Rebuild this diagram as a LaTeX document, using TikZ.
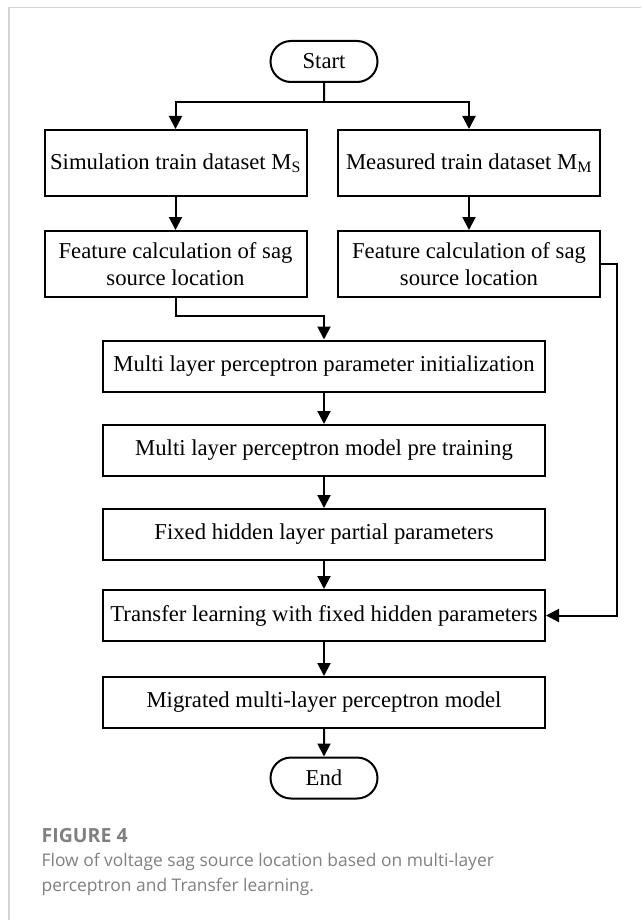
\documentclass[tikz,border=0pt]{standalone}
\usepackage{fontspec}
\setmainfont{Liberation Serif}
\newfontfamily\capfont{Open Sans}
\usetikzlibrary{arrows.meta, shapes.misc}
\definecolor{capgray}{RGB}{128,128,128}
\definecolor{framegray}{RGB}{212,212,212}

\begin{document}
\begin{tikzpicture}[x=1pt, y=-1pt,
    proc/.style={draw, line width=2pt, minimum width=262pt, minimum height=66pt, inner sep=0pt, align=center, font=\fontsize{22.7pt}{26.7pt}\selectfont},
    wide/.style={proc, minimum width=442pt, minimum height=51pt},
    term/.style={draw, line width=2pt, rounded rectangle, minimum width=107pt, minimum height=41pt, inner sep=0pt, font=\fontsize{22.7pt}{26.7pt}\selectfont},
    link/.style={line width=2pt},
    arr/.style={link, -{Triangle[length=13pt, width=13pt]}},
    captext/.style={anchor=base west, inner sep=0pt, text=capgray}]
        \useasboundingbox (0,0) rectangle (641,920);
        \draw[framegray, line width=1.5pt] (9,920) -- (9,7.5) -- (641,7.5);

        \node[term] (start) at (324,61.5) {Start};
        \node[proc] (simdata) at (175.5,163) {Simulation train dataset M\textsubscript{S}};
        \node[proc] (measdata) at (469,163) {Measured train dataset M\textsubscript{M}};
        \node[proc] (simfeat) at (175.5,264) {Feature calculation of sag\\source location};
        \node[proc] (measfeat) at (469,264) {Feature calculation of sag\\source location};
        \node[wide] (init) at (324,366) {Multi layer perceptron parameter initialization};
        \node[wide] (pretrain) at (324,450.5) {Multi layer perceptron model pre training};
        \node[wide] (fixhid) at (324,534.5) {Fixed hidden layer partial parameters};
        \node[wide] (transfer) at (324,615.5) {Transfer learning with fixed hidden parameters};
        \node[wide] (migrated) at (324,702.5) {Migrated multi-layer perceptron model};
        \node[term] (end) at (324,778) {End};

        \coordinate (split) at (324,102);
        \coordinate (join) at (324,316);
        \coordinate (bypass) at (616.5,264);

        \draw[link] (start) -- (split);
        \draw[arr] (split) -| (simdata);
        \draw[arr] (split) -| (measdata);
        \draw[arr] (simdata) -- (simfeat);
        \draw[arr] (measdata) -- (measfeat);
        \draw[arr] (simfeat) |- (join) -- (init);
        \draw[arr] (measfeat) -- (bypass) |- (transfer);
        \draw[arr] (init) -- (pretrain);
        \draw[arr] (pretrain) -- (fixhid);
        \draw[arr] (fixhid) -- (transfer);
        \draw[arr] (transfer) -- (migrated);
        \draw[arr] (migrated) -- (end);

        \node[captext, font=\capfont\bfseries\fontsize{19.5pt}{22pt}\selectfont] (figlabel) at (41.5,842) {FIGURE 4};
        \node[captext, font=\capfont\fontsize{17.4pt}{22pt}\selectfont] (capline1) at (41.5,866.7) {Flow of voltage sag source location based on multi-layer};
        \node[captext, font=\capfont\fontsize{17.4pt}{22pt}\selectfont] (capline2) at (41.5,891) {perceptron and Transfer learning.};
    \end{tikzpicture}
\end{document}
